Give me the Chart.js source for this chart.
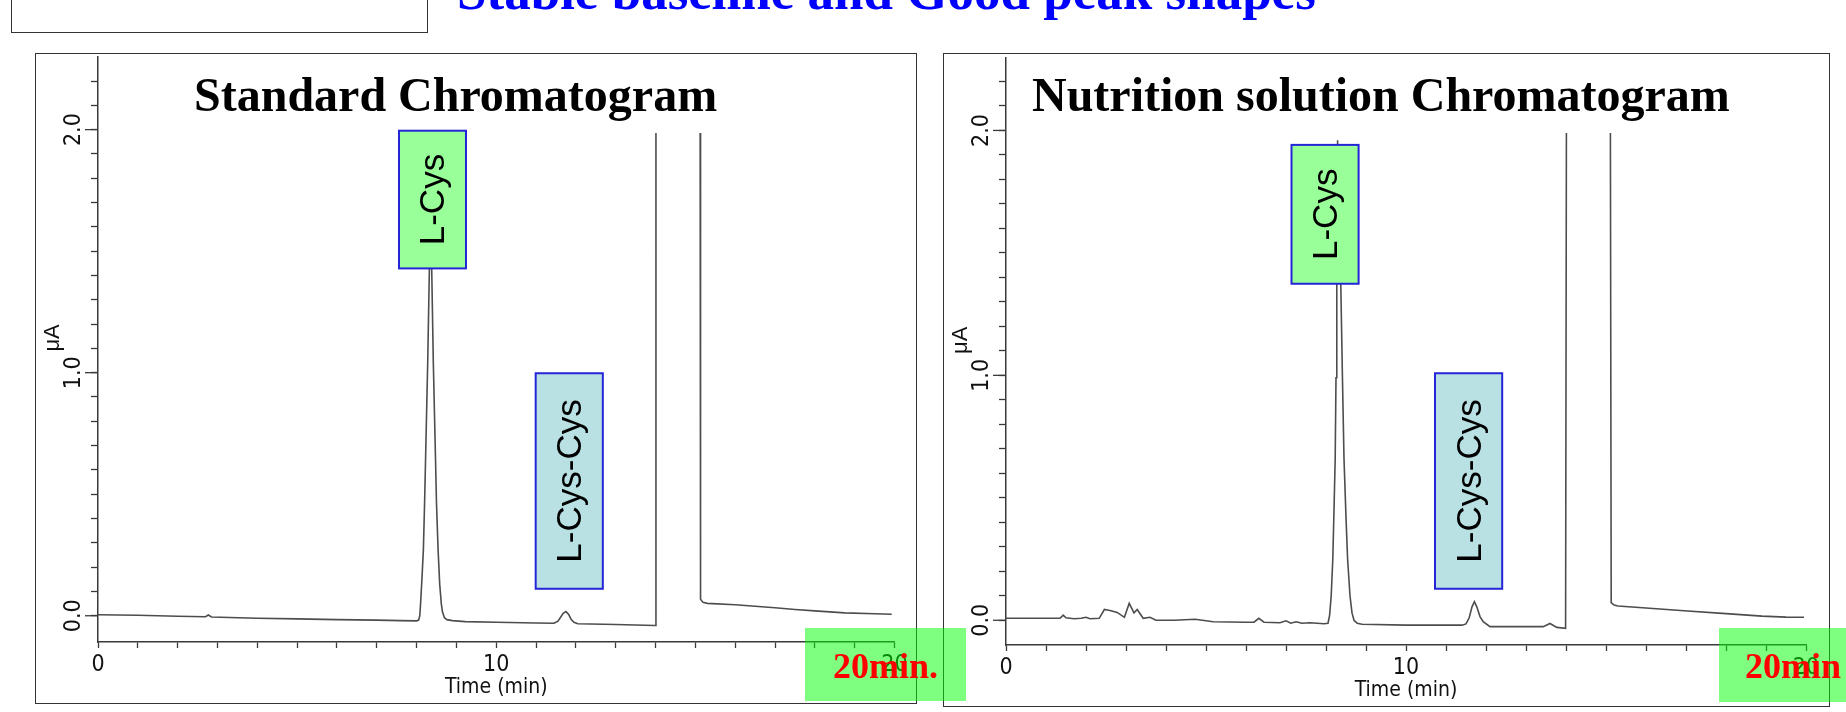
<!DOCTYPE html>
<html>
<head>
<meta charset="utf-8">
<script src="https://cdn.jsdelivr.net/npm/chart.js@4.4.1/dist/chart.umd.min.js"></script>
<style>
html, body { margin: 0; padding: 0; background: #fff; }
body { width: 1846px; height: 712px; position: relative; overflow: hidden; }
.frame { position: absolute; box-sizing: border-box; border: 1.5px solid #333; }
canvas.plot { position: absolute; }
#headline { position: absolute; left: 457px; top: -35.4px; font: bold 53px "Liberation Serif", "Times New Roman", serif;
  color: #0000ff; white-space: nowrap; line-height: 53px; }
.tag { position: absolute; background: rgba(0, 255, 0, 0.5); z-index: 5; }
.tag span { position: absolute; top: 19.85px; font: bold 36px "Liberation Serif", "Times New Roman", serif;
  color: #ff0000; line-height: 36px; white-space: nowrap; }
</style>
</head>
<body>
<div class="frame" style="left:11px;top:-30px;width:417px;height:63px"></div>
<div id="headline">Stable baseline and Good peak shapes</div>

<div class="frame" style="left:35px;top:53px;width:882px;height:651px"></div>
<canvas class="plot" id="stdCanvas" width="880" height="649" style="left:36px;top:54px"></canvas>

<div class="frame" style="left:943px;top:53px;width:887px;height:654px"></div>
<canvas class="plot" id="nutCanvas" width="885" height="652" style="left:944px;top:54px"></canvas>

<div class="tag" style="left:805px;top:628px;width:161px;height:73px"><span style="left:0;right:0;text-align:center">20min.</span></div>
<div class="tag" style="left:1719px;top:628px;width:127px;height:74px"><span style="left:26px">20min</span></div>

<script>
(function(){
'use strict';

// ---- datos leídos de los dos cromatogramas (tiempo en min, señal en µA) ----
// estándar
const stdTime   = [0, 1, 2, 2.7, 2.77, 2.85, 4, 5, 6, 7, 7.6,
  8.0, 8.05, 8.08, 8.10, 8.13, 8.17, 8.20, 8.23, 8.28, 8.32, 8.35, 8.38, 8.42, 8.47, 8.50, 8.54, 8.58, 8.62, 8.65, 8.70, 8.76, 8.9,
  9.22, 10, 11, 11.45, 11.55, 11.62, 11.68, 11.75, 11.82, 11.88, 11.95, 12.05, 13, 13.99, 14.01, 14.5,
  15.12, 15.13, 15.19, 15.3, 16, 17, 17.5, 18, 18.75, 19.5, 19.93];
const stdSignal = [0.004, 0.002, -0.002, -0.004, 0.003, -0.005, -0.010, -0.013, -0.016, -0.018, -0.020,
  -0.021, -0.018, 0.0, 0.05, 0.14, 0.27, 0.46, 0.68, 1.05, 1.42, 1.62, 1.42, 1.04, 0.68, 0.46, 0.27, 0.13, 0.05, 0.015, -0.008, -0.016, -0.020,
  -0.024, -0.027, -0.030, -0.031, -0.022, -0.005, 0.010, 0.017, 0.005, -0.015, -0.027, -0.033, -0.036, -0.040, 1.986, null,
  1.986, 0.068, 0.055, 0.051, 0.045, 0.033, 0.026, 0.020, 0.012, 0.008, 0.006];

// solución nutritiva
const nutTime   = [0, 0.8, 1.35, 1.43, 1.5, 1.7, 1.88, 2.0, 2.1, 2.33, 2.46, 2.6, 2.78, 2.96, 3.08, 3.2, 3.28, 3.43, 3.6, 3.75,
  4.2, 4.73, 5.18, 6.0, 6.2, 6.32, 6.45, 6.85, 7.0, 7.12, 7.25, 7.4, 7.6, 7.95,
  8.05, 8.09, 8.13, 8.17, 8.20, 8.23, 8.25, 8.27, 8.29, 8.33, 8.37, 8.41, 8.45, 8.50, 8.54, 8.60, 8.65, 8.70, 8.78, 8.9,
  10, 11, 11.4, 11.5, 11.58, 11.65, 11.71, 11.77, 11.85, 11.93, 12.1, 13, 13.43, 13.6, 13.77, 13.99, 14.01, 14.5,
  15.11, 15.13, 15.2, 15.3, 16, 16.95, 18, 18.9, 19.5, 19.95];
const nutSignal = [0.008, 0.008, 0.008, 0.021, 0.010, 0.006, 0.008, 0.012, 0.006, 0.008, 0.044, 0.040, 0.032, 0.012, 0.069, 0.030, 0.044, 0.008, 0.012, 0.000,
  0.000, 0.004, -0.006, -0.008, -0.008, 0.008, -0.008, -0.010, -0.002, -0.012, -0.006, -0.012, -0.010, -0.014,
  -0.012, 0.02, 0.10, 0.25, 0.45, 0.66, 0.99, 1.37, 1.96, 1.65, 1.37, 1.00, 0.66, 0.42, 0.25, 0.10, 0.03, 0.0, -0.012, -0.016,
  -0.020, -0.020, -0.020, -0.015, 0.010, 0.055, 0.076, 0.055, 0.015, -0.006, -0.026, -0.026, -0.026, -0.013, -0.029, -0.033, 1.99, null,
  1.99, 0.072, 0.062, 0.058, 0.050, 0.039, 0.027, 0.017, 0.013, 0.012];

// ejes
const xMinorTicks = [0, 1, 2, 3, 4, 5, 6, 7, 8, 9, 10, 11, 12, 13, 14, 15, 16, 17, 18, 19, 20];
const xLabelTicks = [0, 10, 20];
const yMinorTicks = [0, 0.1, 0.2, 0.3, 0.4, 0.5, 0.6, 0.7, 0.8, 0.9, 1.0, 1.1, 1.2, 1.3, 1.4, 1.5, 1.6, 1.7, 1.8, 1.9, 2.0, 2.1, 2.2];
const yLabelTicks = [0.0, 1.0, 2.0];
const yLabelText  = ['0.0', '1.0', '2.0'];
const xTitle = 'Time (min)';
const yUnit  = 'μA';
const peakNames = ['L-Cys', 'L-Cys-Cys'];
const chartTitles = ['Standard Chromatogram', 'Nutrition solution Chromatogram'];

const AXIS = '#3a3a3a';
const NARROW = '"Liberation Sans Narrow", "DejaVu Sans Condensed", "Liberation Sans", sans-serif';

// etiquetas, cajas de picos y título dentro del área
const chromDecor = {
  id: 'chromDecor',
  afterDatasetsDraw(chart, args, opts) {
    const { ctx } = chart;
    const x = chart.scales.x, y = chart.scales.y;
    ctx.save();

    // ticks mayores (más largos) + etiquetas giradas
    ctx.strokeStyle = AXIS; ctx.lineWidth = 1.3;
    ctx.fillStyle = '#111';
    ctx.font = '23px ' + NARROW;
    ctx.textAlign = 'center'; ctx.textBaseline = 'middle';
    yLabelTicks.forEach((v, i) => {
      const py = y.getPixelForValue(v);
      ctx.beginPath(); ctx.moveTo(x.left - 13, py); ctx.lineTo(x.left, py); ctx.stroke();
      ctx.save(); ctx.translate(x.left - 24, py); ctx.rotate(-Math.PI / 2);
      ctx.fillText(yLabelText[i], 0, 0);
      ctx.restore();
    });
    // unidad
    ctx.save();
    ctx.translate(x.left - 45, y.getPixelForValue(1.143)); ctx.rotate(-Math.PI / 2);
    ctx.font = '22px "Liberation Sans", sans-serif';
    ctx.fillText(yUnit, 0, 0);
    ctx.restore();

    // cajas de los picos
    opts.boxes.forEach(b => {
      const l = x.getPixelForValue(b.x0), r = x.getPixelForValue(b.x1);
      const t = y.getPixelForValue(b.y1), bt = y.getPixelForValue(b.y0);
      ctx.fillStyle = b.fill; ctx.fillRect(l, t, r - l, bt - t);
      ctx.strokeStyle = '#2525d8'; ctx.lineWidth = 2; ctx.strokeRect(l, t, r - l, bt - t);
      ctx.save();
      ctx.translate((l + r) / 2 + 12, (t + bt) / 2); ctx.rotate(-Math.PI / 2);
      ctx.font = '35px "Liberation Sans", Arial, sans-serif';
      ctx.textAlign = 'center'; ctx.textBaseline = 'alphabetic'; ctx.fillStyle = '#000';
      ctx.fillText(b.text, 0, 0);
      ctx.restore();
    });

    // título
    ctx.font = 'bold 48px "Liberation Serif", "Times New Roman", serif';
    ctx.textAlign = 'left'; ctx.textBaseline = 'alphabetic'; ctx.fillStyle = '#000';
    ctx.fillText(opts.title, opts.titleX, opts.titleY);
    ctx.restore();
  }
};

function makeChart(id, time, signal, o) {
  const pts = time.map((t, i) => ({ x: t, y: signal[i] }));
  return new Chart(document.getElementById(id), {
    type: 'line',
    data: { datasets: [{ data: pts, borderColor: '#4d4d4d', borderWidth: 1.6, pointRadius: 0, tension: 0, spanGaps: false, fill: false }] },
    options: {
      responsive: false, animation: false, events: [],
      layout: { padding: { left: 0, top: o.padTop, right: o.padRight, bottom: 0 } },
      plugins: { legend: { display: false }, tooltip: { enabled: false }, chromDecor: o.decor },
      scales: {
        x: {
          type: 'linear', min: 0, max: 20,
          afterBuildTicks: s => { s.ticks = xMinorTicks.map(v => ({ value: v })); },
          afterFit: s => { s.height = 61; },
          grid: { drawOnChartArea: false, tickLength: 6, color: AXIS, tickWidth: 1.3 },
          border: { color: AXIS, width: 1.5 },
          ticks: { autoSkip: false, maxRotation: 0, minRotation: 0, padding: 3, color: '#111',
                   font: { family: NARROW, size: 23 },
                   callback: v => xLabelTicks.includes(v) ? String(v) : '' },
          title: { display: true, text: xTitle, color: '#111', font: { family: NARROW, size: 21 }, padding: { top: 0, bottom: 2.5 } }
        },
        y: {
          type: 'linear', min: o.yMin, max: o.yMax,
          afterBuildTicks: s => { s.ticks = yMinorTicks.map(v => ({ value: v })); },
          afterFit: s => { s.width = 62; },
          grid: { drawOnChartArea: false, tickLength: 7, color: AXIS, tickWidth: 1.3 },
          border: { color: AXIS, width: 1.5 },
          ticks: { display: false }
        }
      }
    },
    plugins: [chromDecor]
  });
}

makeChart('stdCanvas', stdTime, stdSignal, {
  padTop: 2.7, padRight: 21.5, yMin: -0.108, yMax: 2.300,
  decor: {
    title: chartTitles[0], titleX: 158, titleY: 57,
    boxes: [
      { text: peakNames[0], x0: 7.558, x1: 9.240, y0: 1.429, y1: 1.9955, fill: '#99ff99' },
      { text: peakNames[1], x0: 10.99, x1: 12.676, y0: 0.111, y1: 0.9977, fill: '#b9e0e3' }
    ]
  }
});

makeChart('nutCanvas', nutTime, nutSignal, {
  padTop: 3.7, padRight: 23, yMin: -0.101, yMax: 2.297,
  decor: {
    title: chartTitles[1], titleX: 88, titleY: 57,
    boxes: [
      { text: peakNames[0], x0: 7.1375, x1: 8.815, y0: 1.374, y1: 1.941, fill: '#99ff99' },
      { text: peakNames[1], x0: 10.725, x1: 12.405, y0: 0.1286, y1: 1.0086, fill: '#b9e0e3' }
    ]
  }
});

// ajusta el titular al ancho del original
const hl = document.getElementById('headline');
const w = hl.getBoundingClientRect().width;
if (w > 0) hl.style.fontSize = (53 * 859 / w).toFixed(2) + 'px';

})();
</script>
</body>
</html>
